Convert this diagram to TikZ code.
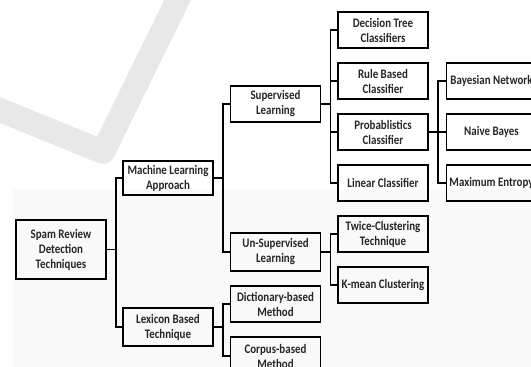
\documentclass[tikz,border=0pt]{standalone}
\usepackage{fontspec}
\setmainfont[FakeStretch=0.84]{Carlito}
\usetikzlibrary{positioning}
\tikzset{
    box/.style={draw,line width=1.5pt,minimum width=90pt,minimum height=36pt,
        inner sep=1pt,align=center,text=black!85,
        font=\bfseries\fontsize{13}{15}\selectfont},
    link/.style={line width=1.5pt,line join=miter},
    wmark/.style={line width=24pt,draw=black!9,line join=round}
}

\begin{document}
\begin{tikzpicture}[x=1pt,y=1pt,node distance=13.5pt]
    \useasboundingbox (0,0) rectangle (531,-367);
    \clip (0,0) rectangle (531,-367);

    % faint page shading and watermark
    \fill[black!2.5] (13,-190) rectangle (531,-367);
    \draw[wmark] (-5,-108) -- (103,-152) -- (180,5);

    % root and first level
    \node[box,minimum height=59pt] (spam) at (61,-249.5) {Spam Review\\Detection\\Techniques};
    \node[box,minimum height=34pt] (ml)  at (168,-178) {Machine Learning\\Approach};
    \node[box,minimum height=38pt] (lbt) at (168,-327) {Lexicon Based\\Technique};

    % classifiers column
    \node[box] (dtc) at (383,-30)  {Decision Tree\\Classifiers};
    \node[box] (rbc) [below=of dtc] {Rule Based\\Classifier};
    \node[box] (pbc) [below=of rbc] {Probablistics\\Classifier};
    \node[box] (lc)  [below=of pbc] {Linear Classifier};
    \node[box] (tct) [below=of lc]  {Twice-Clustering\\Technique};
    \node[box] (kmc) [below=of tct] {K-mean Clustering};

    % probabilistic kinds
    \node[box] (bn) [right=17pt of rbc] {Bayesian Network};
    \node[box] (nb) [right=17pt of pbc] {Naive Bayes};
    \node[box] (me) [right=17pt of lc]  {Maximum Entropy};

    % learning types and lexicon methods
    \node[box] (sl)  at (275.5,-104) {Supervised\\Learning};
    \node[box,minimum height=38pt] (usl) at (275.5,-252) {Un-Supervised\\Learning};
    \node[box] (dm)  [below=of usl] {Dictionary-based\\Method};
    \node[box,minimum height=38pt] (cm) [below=of dm] {Corpus-based\\Method};

    % connectors
    \foreach \a/\b in {spam/ml,spam/lbt,ml/sl,ml/usl,lbt/dm,lbt/cm,
        sl/dtc,sl/rbc,sl/pbc,sl/lc,usl/tct,usl/kmc,pbc/bn,pbc/nb,pbc/me}
        \draw[link] (\a.east) -- ++(9,0) |- (\b.west);
\end{tikzpicture}
\end{document}
